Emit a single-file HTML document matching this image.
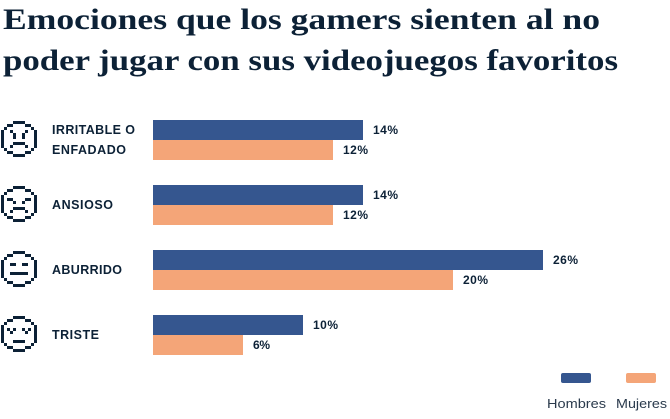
<!DOCTYPE html>
<html><head><meta charset="utf-8"><style>
html,body{margin:0;padding:0;background:#fff;}
svg{display:block;}
</style></head><body>
<svg width="670" height="419" viewBox="0 0 670 419" xmlns="http://www.w3.org/2000/svg">
<defs>
<path id="o" d="M12 0h12v3h-12z M6 3h6v3h-6z M24 3h6v3h-6z M3 6h3v3h-3z M30 6h3v3h-3z M0 9h3v18h-3z M33 9h3v18h-3z M3 27h3v3h-3z M30 27h3v3h-3z M6 30h6v3h-6z M24 30h6v3h-6z M12 33h12v3h-12z"/>
</defs>
<g font-family="'Liberation Serif', serif" font-weight="bold" font-size="30" fill="#0c2136">
<text x="3" y="29" textLength="597" lengthAdjust="spacingAndGlyphs">Emociones que los gamers sienten al no</text>
<text x="3" y="70" textLength="615" lengthAdjust="spacingAndGlyphs">poder jugar con sus videojuegos favoritos</text>
</g>
<g fill="#0c2136">
<g transform="translate(1,121)"><use href="#o"/><path d="M9 9h3v3h-3z M24 9h3v3h-3z M12 12h3v3h-3z M21 12h3v3h-3z M12 15h3v3h-3z M21 15h3v3h-3z M12 21h12v3h-12z M9 24h3v3h-3z M24 24h3v3h-3z"/></g>
<g transform="translate(1,186)"><use href="#o"/><path d="M6 12h6v3h-6z M24 12h6v3h-6z M12 15h3v3h-3z M21 15h3v3h-3z M12 21h12v3h-12z M9 24h3v3h-3z M24 24h3v3h-3z"/></g>
<g transform="translate(1,251)"><use href="#o"/><path d="M9 12h6v3h-6z M21 12h6v3h-6z M9 21h18v3h-18z"/></g>
<g transform="translate(1,316)"><use href="#o"/><path d="M6 12h3v3h-3z M12 12h3v3h-3z M21 12h3v3h-3z M27 12h3v3h-3z M9 15h3v3h-3z M24 15h3v3h-3z M12 24h12v3h-12z"/></g>
</g>
<g font-family="'Liberation Sans', sans-serif" font-weight="bold" font-size="12.5" fill="#0c2136">
<text x="52" y="134" textLength="83" lengthAdjust="spacing">IRRITABLE O</text>
<text x="52" y="154" textLength="74" lengthAdjust="spacing">ENFADADO</text>
<text x="52" y="209" textLength="61" lengthAdjust="spacing">ANSIOSO</text>
<text x="52" y="274" textLength="70" lengthAdjust="spacing">ABURRIDO</text>
<text x="52" y="339" textLength="47" lengthAdjust="spacing">TRISTE</text>
</g>
<g>
<rect x="153" y="120" width="210" height="20" fill="#35568f"/>
<rect x="153" y="140" width="180" height="20" fill="#f4a578"/>
<rect x="153" y="185" width="210" height="20" fill="#35568f"/>
<rect x="153" y="205" width="180" height="20" fill="#f4a578"/>
<rect x="153" y="250" width="390" height="20" fill="#35568f"/>
<rect x="153" y="270" width="300" height="20" fill="#f4a578"/>
<rect x="153" y="315" width="150" height="20" fill="#35568f"/>
<rect x="153" y="335" width="90" height="20" fill="#f4a578"/>
</g>
<g font-family="'Liberation Sans', sans-serif" font-weight="bold" font-size="12" fill="#0c2136">
<text x="373" y="134" textLength="25" lengthAdjust="spacing">14%</text>
<text x="343" y="154" textLength="25" lengthAdjust="spacing">12%</text>
<text x="373" y="199" textLength="25" lengthAdjust="spacing">14%</text>
<text x="343" y="219" textLength="25" lengthAdjust="spacing">12%</text>
<text x="553" y="264" textLength="25" lengthAdjust="spacing">26%</text>
<text x="463" y="284" textLength="25" lengthAdjust="spacing">20%</text>
<text x="313" y="329" textLength="25" lengthAdjust="spacing">10%</text>
<text x="253" y="349" textLength="17" lengthAdjust="spacing">6%</text>
</g>
<rect x="561" y="373" width="30" height="10" rx="2" fill="#35568f"/>
<rect x="626" y="373" width="30" height="10" rx="2" fill="#f4a578"/>
<g font-family="'Liberation Sans', sans-serif" font-size="13" fill="#2a3a4c">
<text x="547" y="408" textLength="59" lengthAdjust="spacingAndGlyphs">Hombres</text>
<text x="616" y="408" textLength="51" lengthAdjust="spacingAndGlyphs">Mujeres</text>
</g>
</svg>
</body></html>
